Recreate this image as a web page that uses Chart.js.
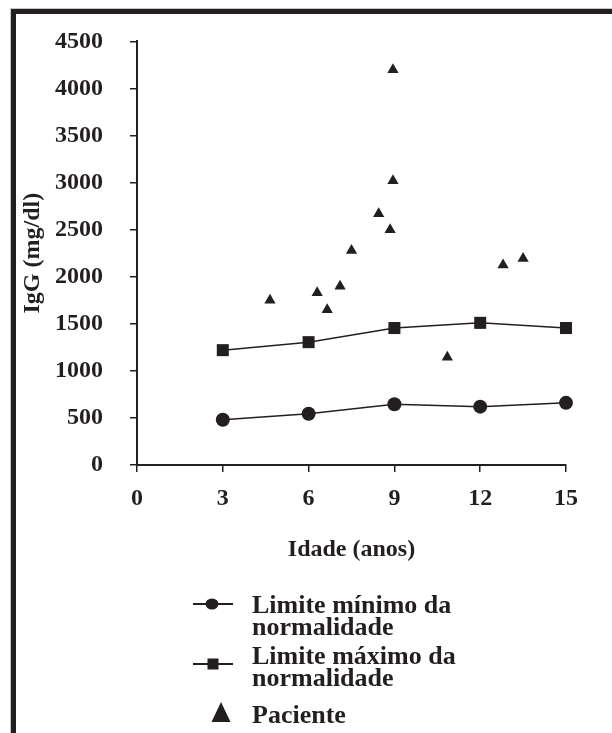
<!DOCTYPE html>
<html>
<head>
<meta charset="utf-8">
<script src="https://cdn.jsdelivr.net/npm/chart.js@4/dist/chart.umd.min.js"></script>
<style>
  html, body { margin: 0; padding: 0; background: #fff; }
  #wrap { position: relative; width: 612px; height: 733px; overflow: hidden; }
  #frame { position: absolute; left: 11px; top: 9px; width: 640px; height: 760px;
           border-top: 5px solid #231f20; border-left: 5px solid #231f20;
           box-shadow: -1px -1px 0 #c8c8c8; }
  #c { position: absolute; left: 0; top: 0; }
</style>
</head>
<body>
<div id="wrap">
  <div id="frame"></div>
  <canvas id="c" width="612" height="733"></canvas>
</div>
<script>
// ---- data ----
const ages = [3, 6, 9, 12, 15];
const minValues = [480, 545, 645, 620, 660];
const maxValues = [1220, 1305, 1455, 1510, 1455];
const patientAge = [4.65, 6.3, 6.65, 7.1, 7.5, 8.45, 8.85, 8.95, 8.95, 10.85, 12.8, 13.5];
const patientIgG = [1750, 1830, 1650, 1900, 2280, 2670, 2500, 3020, 4200, 1145, 2125, 2195];
const xTicks = [0, 3, 6, 9, 12, 15];
const yTicks = [0, 500, 1000, 1500, 2000, 2500, 3000, 3500, 4000, 4500];
const seriesLabels = ['Limite mínimo da normalidade', 'Limite máximo da normalidade', 'Paciente'];
const legendLines = [['Limite mínimo da', 'normalidade'], ['Limite máximo da', 'normalidade'], ['Paciente']];
const xTitle = 'Idade (anos)';
const yTitle = 'IgG (mg/dl)';

const INK = '#231f20';
const FONT = "'Liberation Serif', 'Times New Roman', serif";

const toPts = (xs, ys) => xs.map((x, i) => ({x: x, y: ys[i]}));

const legendPlugin = {
  id: 'customLegend',
  afterDraw(chart) {
    const ctx = chart.ctx;
    ctx.save();
    ctx.fillStyle = INK;
    ctx.strokeStyle = INK;
    ctx.font = "bold 26px " + FONT;
    ctx.textBaseline = 'alphabetic';
    ctx.textAlign = 'left';
    const items = [
      {sym: 'circle', sy: 604, base: [613, 635]},
      {sym: 'rect', sy: 664, base: [664, 686]},
      {sym: 'triangle', sy: 713, base: [723]}
    ];
    items.forEach((it, i) => {
      if (it.sym !== 'triangle') {
        ctx.lineWidth = 2;
        ctx.beginPath();
        ctx.moveTo(193, it.sy);
        ctx.lineTo(233, it.sy);
        ctx.stroke();
      }
      ctx.beginPath();
      if (it.sym === 'circle') {
        ctx.ellipse(212, it.sy, 6.5, 5.5, 0, 0, Math.PI * 2);
        ctx.fill();
      } else if (it.sym === 'rect') {
        ctx.fillRect(213 - 5.5, it.sy - 5.5, 11, 11);
      } else {
        ctx.moveTo(221, it.sy - 11);
        ctx.lineTo(230.5, it.sy + 9);
        ctx.lineTo(211.5, it.sy + 9);
        ctx.closePath();
        ctx.fill();
      }
      legendLines[i].forEach((t, k) => ctx.fillText(t, 252, it.base[k]));
    });
    ctx.restore();
  }
};

new Chart(document.getElementById('c'), {
  type: 'scatter',
  data: {
    datasets: [
      {
        label: seriesLabels[0],
        data: toPts(ages, minValues),
        showLine: true,
        borderColor: INK, borderWidth: 1.5,
        backgroundColor: INK,
        pointStyle: 'circle', pointRadius: 7, pointHoverRadius: 7,
        pointBorderWidth: 0,
        clip: false
      },
      {
        label: seriesLabels[1],
        data: toPts(ages, maxValues),
        showLine: true,
        borderColor: INK, borderWidth: 1.5,
        backgroundColor: INK,
        pointStyle: 'rect', pointRadius: 8.5, pointHoverRadius: 8.5,
        pointBorderWidth: 0,
        clip: false
      },
      {
        label: seriesLabels[2],
        data: toPts(patientAge, patientIgG),
        showLine: false,
        borderColor: INK,
        backgroundColor: INK,
        pointStyle: 'triangle', pointRadius: 6.5, pointHoverRadius: 6.5,
        pointBorderWidth: 0,
        clip: false
      }
    ]
  },
  options: {
    responsive: false,
    animation: false,
    devicePixelRatio: 1,
    layout: { padding: { top: 39, right: 46, left: 0, bottom: 168 } },
    plugins: { legend: { display: false }, tooltip: { enabled: false } },
    scales: {
      x: {
        type: 'linear', min: 0, max: 15,
        afterBuildTicks: (s) => { s.ticks = xTicks.map(v => ({value: v})); },
        afterFit: (s) => { s.height = 100; },
        grid: { display: true, drawOnChartArea: false, drawTicks: true, tickLength: 7, color: INK, lineWidth: 1.5 },
        border: { display: true, color: INK, width: 2 },
        ticks: { color: INK, font: { family: FONT, size: 24, weight: 'bold' }, padding: 12, maxRotation: 0,
                 callback: (v) => String(v) },
        title: { display: true, text: xTitle, color: INK, font: { family: FONT, size: 24, weight: 'bold' }, padding: { top: 0, bottom: 1 } }
      },
      y: {
        type: 'linear', min: 0, max: 4500,
        afterBuildTicks: (s) => { s.ticks = yTicks.map(v => ({value: v})); },
        afterFit: (s) => { s.width = 137; },
        grid: { display: true, drawOnChartArea: false, drawTicks: true, tickLength: 7, color: INK, lineWidth: 1.5 },
        border: { display: true, color: INK, width: 2 },
        ticks: { color: INK, font: { family: FONT, size: 24, weight: 'bold' }, padding: 27,
                 callback: (v) => String(v) },
        title: { display: true, text: yTitle, color: INK, font: { family: FONT, size: 24, weight: 'bold' }, padding: { top: 18, bottom: 0 } }
      }
    }
  },
  plugins: [legendPlugin]
});
</script>
</body>
</html>
